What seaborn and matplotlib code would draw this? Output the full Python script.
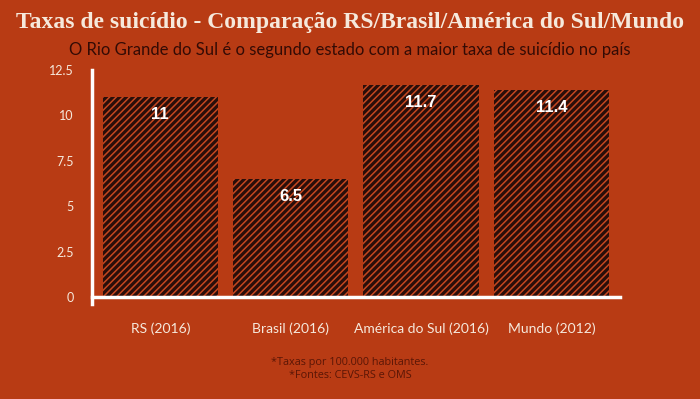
import seaborn as sns
import matplotlib.pyplot as plt

categorias = ['RS (2016)', 'Brasil (2016)', 'América do Sul (2016)', 'Mundo (2012)']
taxas = [11, 6.5, 11.7, 11.4]
rotulos = ['11', '6.5', '11.7', '11.4']
yticks = [0, 2.5, 5, 7.5, 10, 12.5]
ytick_labels = ['0', '2.5', '5', '7.5', '10', '12.5']

fundo = '#B83B14'
barra = '#2A0E0A'
risco = '#C4471F'
creme = '#F6E9DC'

sns.set_theme(style='white')
plt.rcParams['font.family'] = ['Lato', 'DejaVu Sans']
plt.rcParams['hatch.linewidth'] = 1.1

fig = plt.figure(figsize=(7, 3.99), dpi=100, facecolor=fundo)
ax = fig.add_axes([0.131, 0.2373, 0.755, 0.587])
ax.set_facecolor(fundo)

sns.barplot(x=categorias, y=taxas, color=barra, width=0.885, saturation=1, ax=ax)
for p in ax.patches:
    p.set_hatch('/////')
    p.set_edgecolor(risco)
    p.set_linewidth(0)

ax.bar_label(ax.containers[0], labels=rotulos, padding=-18, color='white',
             fontsize=12, fontweight='bold', family=['Liberation Sans', 'DejaVu Sans'])

ax.set_xlim(-0.526, 3.526)
ax.set_ylim(-0.4, 12.5)
ax.set_yticks(yticks)
ax.set_yticklabels(ytick_labels)
ax.tick_params(axis='y', length=0, pad=13, labelcolor=creme, labelsize=9)
ax.tick_params(axis='x', length=0, pad=18, labelcolor=creme, labelsize=10)
ax.set_xlabel('')
ax.set_ylabel('')

for s in ['top', 'right']:
    ax.spines[s].set_visible(False)
ax.spines['left'].set_color('white')
ax.spines['left'].set_linewidth(2.5)
ax.spines['bottom'].set_color('white')
ax.spines['bottom'].set_linewidth(2.5)
ax.spines['bottom'].set_position(('data', 0))

fig.text(0.5, 0.943, 'Taxas de suicídio - Comparação RS/Brasil/América do Sul/Mundo',
         ha='center', va='center', color=creme, fontsize=17, fontweight='bold',
         family=['Liberation Serif', 'DejaVu Serif'])
fig.text(0.5, 0.874, 'O Rio Grande do Sul é o segundo estado com a maior taxa de suicídio no país',
         ha='center', va='center', color='#330B05', fontsize=12)
fig.text(0.5, 0.075, '*Taxas por 100.000 habitantes.\n*Fontes: CEVS-RS e OMS',
         ha='center', va='center', color='#5A1606', fontsize=7.8, linespacing=1.3,
         family=['Open Sans', 'DejaVu Sans'])

fig.savefig('out.png', dpi=100, facecolor=fundo)
